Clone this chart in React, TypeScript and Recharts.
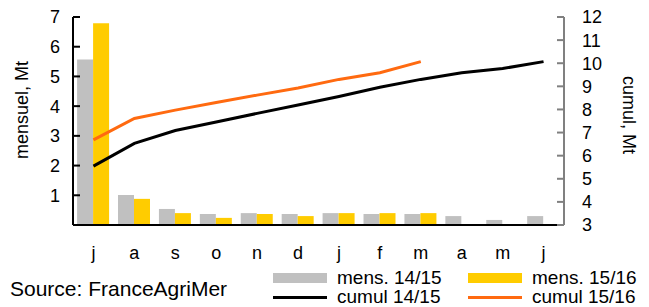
import React from 'react';
import { Bar, ComposedChart, Line, XAxis, YAxis } from 'recharts';

const MONTHS = ['j', 'a', 's', 'o', 'n', 'd', 'j', 'f', 'm', 'a', 'm', 'j'];
const MENS_1415 = [5.57, 1.01, 0.54, 0.37, 0.4, 0.37, 0.4, 0.37, 0.37, 0.3, 0.17, 0.3];
const MENS_1516 = [6.79, 0.88, 0.4, 0.24, 0.37, 0.3, 0.4, 0.4, 0.4, null, null, null];
const CUMUL_1415 = [5.55, 6.53, 7.09, 7.46, 7.83, 8.19, 8.56, 8.96, 9.3, 9.59, 9.77, 10.07];
const CUMUL_1516 = [6.68, 7.61, 7.97, 8.3, 8.62, 8.93, 9.3, 9.59, 10.07, null, null, null];

const LEFT_TICKS = [0, 1, 2, 3, 4, 5, 6, 7];
const RIGHT_TICKS = [3, 4, 5, 6, 7, 8, 9, 10, 11, 12];

const GREY = '#c0c0c0';
const YELLOW = '#ffcc00';
const ORANGE = '#ff6a10';
const FONT = '"Liberation Sans", Arial, sans-serif';

const rows = MONTHS.map((month, i) => ({
  month,
  mens1415: MENS_1415[i],
  mens1516: MENS_1516[i],
  cumul1415: CUMUL_1415[i],
  cumul1516: CUMUL_1516[i],
}));

const LEGEND = [
  { name: 'mens. 14/15', color: GREY, kind: 'bar' },
  { name: 'mens. 15/16', color: YELLOW, kind: 'bar' },
  { name: 'cumul 14/15', color: '#000', kind: 'line' },
  { name: 'cumul 15/16', color: ORANGE, kind: 'line' },
];

// rotated axis titles, placed relative to the axis box
function axisTitle(text: string, dx: number, dy: number, angle: number) {
  return (props: any) => {
    const vb = props.viewBox ?? { x: 0, y: 17, width: 73, height: 208 };
    const x = vb.x + dx;
    const y = vb.y + vb.height / 2 + dy;
    return (
      <text
        x={x}
        y={y}
        transform={`rotate(${angle}, ${x}, ${y})`}
        textAnchor="middle"
        dominantBaseline="central"
        fontSize={18}
        fontFamily={FONT}
        fill="#000"
      >
        {text}
      </text>
    );
  };
}

export default function App() {
  const tick = { fill: '#000', fontSize: 18, fontFamily: FONT };
  return (
    <div
      style={{
        position: 'absolute',
        left: 0,
        top: 0,
        width: 649,
        height: 307,
        background: '#fff',
        fontFamily: FONT,
      }}
    >
      <ComposedChart
        width={649}
        height={307}
        data={rows}
        margin={{ top: 17, right: 0, bottom: 0, left: 0 }}
        barCategoryGap="10%"
        barGap={0}
      >
        <XAxis
          dataKey="month"
          height={82}
          tick={tick}
          tickLine={false}
          tickSize={0}
          tickMargin={21}
          axisLine={{ stroke: '#000', strokeWidth: 2 }}
          interval={0}
        />
        <YAxis
          yAxisId="left"
          domain={[0, 7]}
          ticks={LEFT_TICKS}
          interval={0}
          width={73}
          tick={tick}
          tickFormatter={(v: number) => (v === 0 ? '' : String(v))}
          tickSize={-7}
          tickMargin={20}
          tickLine={{ stroke: '#000', strokeWidth: 2 }}
          axisLine={{ stroke: '#000', strokeWidth: 2 }}
          label={{ content: axisTitle('mensuel, Mt', 22, -11, -90) }}
        />
        <YAxis
          yAxisId="right"
          orientation="right"
          domain={[3, 12]}
          ticks={RIGHT_TICKS}
          interval={0}
          width={85}
          tick={{ ...tick, textAnchor: 'start' }}
          tickSize={-7}
          tickMargin={25}
          tickLine={{ stroke: '#808080', strokeWidth: 2 }}
          axisLine={{ stroke: '#808080', strokeWidth: 2 }}
          label={{ content: axisTitle('cumul, Mt', 65, -6, 90) }}
        />
        <Bar yAxisId="left" dataKey="mens1415" fill={GREY} isAnimationActive={false} />
        <Bar yAxisId="left" dataKey="mens1516" fill={YELLOW} isAnimationActive={false} />
        <Line
          yAxisId="right"
          type="linear"
          dataKey="cumul1415"
          stroke="#000"
          strokeWidth={3}
          dot={false}
          activeDot={false}
          isAnimationActive={false}
        />
        <Line
          yAxisId="right"
          type="linear"
          dataKey="cumul1516"
          stroke={ORANGE}
          strokeWidth={3}
          dot={false}
          activeDot={false}
          isAnimationActive={false}
        />
      </ComposedChart>

      <div
        style={{
          position: 'absolute',
          left: 10,
          top: 289,
          transform: 'translateY(-50%)',
          fontSize: 21,
          whiteSpace: 'nowrap',
        }}
      >
        Source: FranceAgriMer
      </div>

      {LEGEND.map((item, i) => {
        const left = i % 2 === 0 ? 273 : 468;
        const top = i < 2 ? 278 : 297;
        return (
          <div
            key={item.name}
            style={{
              position: 'absolute',
              left,
              top,
              transform: 'translateY(-50%)',
              display: 'flex',
              alignItems: 'center',
              whiteSpace: 'nowrap',
              fontSize: 19,
              lineHeight: '20px',
            }}
          >
            <span
              style={{
                display: 'inline-block',
                width: 54,
                height: item.kind === 'bar' ? 10 : 3,
                background: item.color,
                marginRight: 10,
              }}
            />
            {item.name}
          </div>
        );
      })}
    </div>
  );
}
